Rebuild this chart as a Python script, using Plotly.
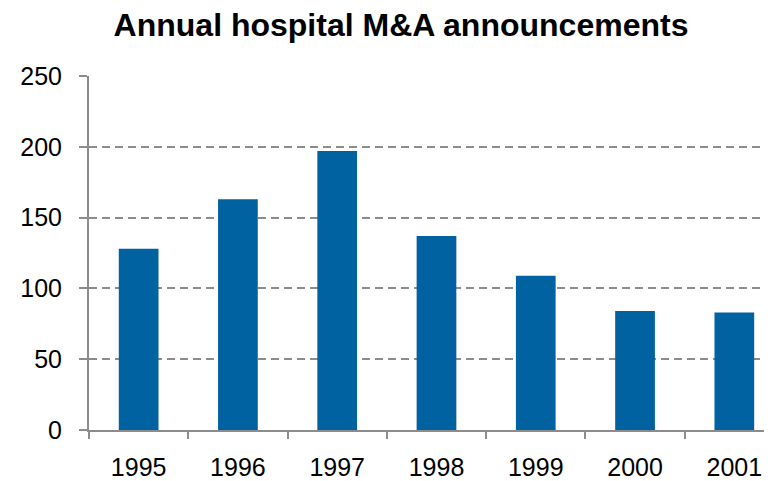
import plotly.graph_objects as go

years = ["1995", "1996", "1997", "1998", "1999", "2000", "2001"]
announcements = [128, 163, 197, 137, 109, 84, 83]
y_ticks = [0, 50, 100, 150, 200, 250]

fig = go.Figure(go.Bar(
    x=years, y=announcements,
    marker=dict(color="#0062A1", line=dict(width=0)),
    width=0.4,
))

fig.update_layout(
    width=772, height=481,
    margin=dict(l=81, r=0, t=68, b=59),
    paper_bgcolor="white", plot_bgcolor="white",
    font=dict(family="Liberation Sans, Arial", size=25, color="black"),
    title=dict(text="<b>Annual hospital M&A announcements</b>",
               x=(401 - 8) / 772, xref="container", xanchor="center",
               y=1 - 17/481, yref="container", yanchor="middle",
               font=dict(size=32, color="black")),
    showlegend=False,
    bargap=0.6,
)
fig.update_xaxes(
    type="category", range=[-0.5, 6.46],
    showline=True, linecolor="#8C8C8C", linewidth=2,
    ticks="outside", tickson="boundaries", ticklen=7, tickcolor="#8C8C8C", tickwidth=2,
    showgrid=False, ticklabelstandoff=14,
)
fig.update_yaxes(
    range=[0, 250], tickvals=y_ticks,
    showline=True, linecolor="#8C8C8C", linewidth=2,
    ticks="outside", ticklen=8, tickcolor="#8C8C8C", tickwidth=2,
    showgrid=True, gridcolor="#8C8C8C", gridwidth=1.5, griddash="8px,5px",
    zeroline=False, ticklabelstandoff=12,
)
fig.write_html("out.html")
